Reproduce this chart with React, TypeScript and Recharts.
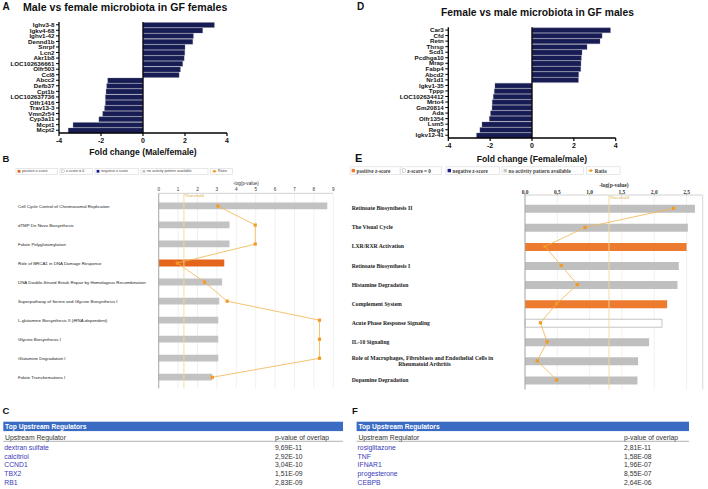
import { BarChart, Bar, XAxis, YAxis, ReferenceLine, Cell, ComposedChart, Line, CartesianGrid } from "recharts";

const SANS = "'Liberation Sans', Arial, sans-serif";
const SERIF = "'Liberation Serif', 'Times New Roman', serif";

// A - male vs female microbiota in GF females
const femaleGenes = ["Ighv3-8", "Igkv4-68", "Ighv1-42", "Dennd1b", "Snrpf", "Lcn2", "Akr1b8", "LOC102636661", "Olfr503", "Ccl8", "Abcc2", "Defb37", "Cpt1b", "LOC102637736", "Olfr1416", "Trav13-3", "Vmn2r54", "Cyp3a11", "Mcpt1", "Mcpt2"];
const femaleFold = [3.4, 2.84, 2.4, 2.37, 2.0, 1.99, 1.96, 1.89, 1.78, 1.72, -1.68, -1.73, -1.76, -1.79, -1.79, -1.83, -1.92, -2.1, -3.33, -3.56];

// D - female vs male microbiota in GF males
const maleGenes = ["Car3", "Cfd", "Retn", "Thrsp", "Scd1", "Pcdhga10", "Mrap", "Fabp4", "Abcd2", "Nr1d1", "Igkv1-35", "Tppp", "LOC102634412", "Mrto4", "Gm20814", "Ada", "Olfr1354", "Lsm5", "Reg4", "Igkv12-41"];
const maleFold = [3.75, 3.35, 3.25, 2.63, 2.39, 2.36, 2.34, 2.33, 2.23, 2.22, -1.77, -1.8, -1.85, -1.9, -1.91, -1.98, -2.04, -2.39, -2.49, -2.65];

const foldTicks = [-4, -2, 0, 2, 4];

// B - canonical pathways (females)
const bPathways = ["Cell Cycle Control of Chromosomal Replication", "dTMP De Novo Biosynthesis", "Folate Polyglutamylation", "Role of BRCA1 in DNA Damage Response", "DNA Double-Strand Break Repair by Homologous Recombination", "Superpathway of Serine and Glycine Biosynthesis I", "L-glutamine Biosynthesis II (tRNA-dependent)", "Glycine Biosynthesis I", "Glutamine Degradation I", "Folate Transformations I"];
const bLogP = [8.69, 3.65, 3.65, 3.38, 3.27, 3.12, 3.07, 3.07, 3.07, 2.76];
const bRatio = [0.339, 0.553, 0.553, 0.107, 0.263, 0.392, 0.921, 0.921, 0.921, 0.307];
const bZ = ["none", "none", "none", "pos", "none", "none", "none", "none", "none", "none"];
const bTicks = [0, 1, 2, 3, 4, 5, 6, 7, 8, 9];

// E - canonical pathways (males)
const ePathways = ["Retinoate Biosynthesis II", "The Visual Cycle", "LXR/RXR Activation", "Retinoate Biosynthesis I", "Histamine Degradation", "Complement System", "Acute Phase Response Signaling", "IL-10 Signaling", "Role of Macrophages, Fibroblasts and Endothelial Cells in\nRheumatoid Arthritis", "Dopamine Degradation"];
const eLogP = [2.63, 2.52, 2.5, 2.38, 2.36, 2.2, 2.12, 1.92, 1.75, 1.74];
const eRatio = [0.836, 0.338, 0.113, 0.204, 0.295, 0.178, 0.087, 0.124, 0.069, 0.178];
const eZ = ["none", "none", "pos", "none", "none", "pos", "zero", "none", "none", "none"];
const eTicks = [0, 0.5, 1, 1.5, 2, 2.5];

// C, F - upstream regulators
const cRegulators = ["dextran sulfate", "calcitriol", "CCND1", "TBX2", "RB1"];
const cPValues = ["9,69E-11", "2,92E-10", "3,04E-10", "1,51E-09", "2,83E-09"];
const fRegulators = ["rosiglitazone", "TNF", "IFNAR1", "progesterone", "CEBPB"];
const fPValues = ["2,81E-11", "1,58E-08", "1,96E-07", "8,55E-07", "2,64E-06"];

const legendLabels = ["positive z-score", "z-score = 0", "negative z-score", "no activity pattern available", "Ratio"];

function FoldChart({ genes, fold, xLabel, left, top, width, height, margin, axisHeight, labelOffset }: any) {
  const data = genes.map((gene: string, i: number) => ({ gene, fold: fold[i] }));
  return (
    <div style={{ position: "absolute", left, top }}>
      <BarChart width={width} height={height} data={data} layout="vertical" margin={margin} barCategoryGap={0.5}>
        <XAxis
          type="number"
          domain={[-4, 4]}
          ticks={foldTicks}
          height={axisHeight}
          tickSize={3}
          tickMargin={2}
          axisLine={{ stroke: "#000", strokeWidth: 1.3 }}
          tickLine={{ stroke: "#000", strokeWidth: 1.2 }}
          tick={{ fill: "#111", fontSize: 7, fontWeight: 700, fontFamily: SANS }}
          label={{ value: xLabel, position: "insideBottom", offset: labelOffset, fill: "#111", fontSize: 8.6, fontWeight: 700, fontFamily: SANS }}
        />
        <YAxis
          type="category"
          dataKey="gene"
          width={55}
          interval={0}
          tickSize={3}
          tickMargin={1.5}
          axisLine={{ stroke: "#000", strokeWidth: 1.3 }}
          tickLine={{ stroke: "#000", strokeWidth: 1 }}
          tick={{ fill: "#111", fontSize: 6.2, fontWeight: 700, fontFamily: SANS }}
        />
        <ReferenceLine x={0} stroke="#000" strokeWidth={1.3} />
        <Bar dataKey="fold" fill="#181c55" stroke="#7c7e92" strokeWidth={0.3} isAnimationActive={false} />
      </BarChart>
    </div>
  );
}

function PathwayChart(p: any) {
  const data = p.names.map((name: string, i: number) => ({ name, logp: p.logp[i], ratio: p.ratio[i], z: p.z[i] }));
  const fillFor = (z: string) => (z === "pos" ? p.orange : z === "zero" ? "#ffffff" : p.gray);

  const renderTick = (props: any) => {
    const lines = String(props.payload.value).split("\n");
    const common = { fontSize: p.labelSize, fontWeight: p.labelWeight, fontFamily: p.labelFont, fill: "#222" };
    if (lines.length === 1) {
      return (
        <text x={p.labelX} y={props.y} dy="0.35em" textAnchor="start" {...common}>
          {lines[0]}
        </text>
      );
    }
    return (
      <g>
        <text x={p.labelX} y={props.y - 2.8} dy="0.35em" textAnchor="start" {...common}>{lines[0]}</text>
        <text x={p.wrapCenter} y={props.y + 2.9} dy="0.35em" textAnchor="middle" {...common}>{lines[1]}</text>
      </g>
    );
  };

  const renderThreshold = (props: any) => {
    const vb = props.viewBox || {};
    return (
      <text x={vb.x + 0.6} y={vb.y + p.thresholdDy} fontSize={p.thresholdSize} fontFamily={p.labelFont} fill="#dcae4a">
        Threshold
      </text>
    );
  };

  const renderDot = (props: any) => (
    <rect key={`dot-${props.index}`} x={props.cx - 1.6} y={props.cy - 1.6} width={3.2} height={3.2} fill="#f19a26" />
  );

  return (
    <div style={{ position: "absolute", left: p.left, top: p.top }}>
      <ComposedChart width={p.width} height={p.height} data={data} layout="vertical" margin={p.margin}>
        <CartesianGrid horizontal={false} stroke="#ececec" strokeWidth={0.8} />
        <XAxis
          type="number"
          orientation="top"
          domain={p.domain}
          ticks={p.ticks}
          height={14}
          tickSize={0}
          tickMargin={p.tickMargin}
          tickLine={false}
          axisLine={{ stroke: "#d2d2d2" }}
          tickFormatter={p.tickFmt}
          tick={{ fill: "#333", fontSize: p.tickSize, fontWeight: p.labelWeight, fontFamily: p.labelFont }}
          label={{ value: "-log(p-value)", position: "insideTop", offset: 2, fill: "#333", fontSize: p.tickSize, fontWeight: p.labelWeight, fontFamily: p.labelFont }}
        />
        <XAxis xAxisId="ratio" type="number" orientation="top" domain={[0, 1]} hide />
        <YAxis
          type="category"
          dataKey="name"
          width={p.yWidth}
          interval={0}
          tickLine={false}
          axisLine={{ stroke: "#a8a8a8" }}
          padding={p.padding}
          tick={renderTick}
        />
        {p.rightEdge !== undefined && <ReferenceLine x={p.rightEdge} stroke="#dcdcdc" />}
        <ReferenceLine x={1.3} stroke="#efd9a0" strokeWidth={0.9} label={renderThreshold} />
        <Bar dataKey="logp" barSize={p.barSize} isAnimationActive={false}>
          {data.map((d: any, i: number) => (
            <Cell key={i} fill={fillFor(d.z)} stroke={d.z === "zero" ? "#b5b5b5" : "none"} strokeWidth={0.8} />
          ))}
        </Bar>
        <Line xAxisId="ratio" dataKey="ratio" type="linear" stroke="#f3b44c" strokeWidth={0.8} dot={renderDot} isAnimationActive={false} />
      </ComposedChart>
    </div>
  );
}

function Legend({ boxes, y, h, size, weight, font, iconSize, navy, orange, gray }: any) {
  return (
    <g>
      {legendLabels.map((label, i) => {
        const [x0, x1] = boxes[i];
        const cy = y + h / 2;
        const ix = x0 + 1.6;
        let icon;
        if (i === 4) {
          icon = (
            <g>
              <line x1={ix} x2={ix + iconSize + 1.5} y1={cy} y2={cy} stroke="#f3b44c" strokeWidth={0.8} />
              <rect x={ix + (iconSize + 1.5) / 2 - 1.2} y={cy - 1.2} width={2.4} height={2.4} fill="#f19a26" />
            </g>
          );
        } else {
          const fills = [orange, "#ffffff", navy, gray];
          icon = <rect x={ix} y={cy - iconSize / 2} width={iconSize} height={iconSize} fill={fills[i]} stroke={i === 1 ? "#999" : "none"} strokeWidth={0.4} />;
        }
        return (
          <g key={label}>
            <rect x={x0} y={y} width={x1 - x0} height={h} fill="#fff" stroke="#d8d8d8" strokeWidth={0.6} />
            {icon}
            <text x={ix + iconSize + (i === 4 ? 3 : 1.6)} y={cy} dominantBaseline="central" fontSize={size} fontWeight={weight} fontFamily={font} fill="#444">
              {label}
            </text>
          </g>
        );
      })}
    </g>
  );
}

function UpstreamTable({ x, width, valueX, names, values }: any) {
  return (
    <g fontFamily={SANS}>
      <rect x={x} y={421.7} width={width} height={9.4} fill="#3a6cc4" />
      <text x={x + 1.8} y={426.4} dominantBaseline="central" fontSize={6.7} fontWeight={700} fill="#fff">Top Upstream Regulators</text>
      <text x={x + 1.8} y={437.6} dominantBaseline="central" fontSize={6.8} fill="#333">Upstream Regulator</text>
      <text x={valueX} y={437.6} dominantBaseline="central" fontSize={6.8} fill="#333">p-value of overlap</text>
      <line x1={x} x2={x + width} y1={441.3} y2={441.3} stroke="#a0a0a0" strokeWidth={0.8} />
      {names.map((n: string, i: number) => (
        <g key={n}>
          <text x={x + 1} y={447.1 + i * 8.9} dominantBaseline="central" fontSize={6.8} fill="#3a3ab8">{n}</text>
          <text x={valueX} y={447.1 + i * 8.9} dominantBaseline="central" fontSize={6.8} fill="#333">{values[i]}</text>
        </g>
      ))}
    </g>
  );
}

export default function App() {
  const commaFmt = (v: number) => v.toFixed(1).replace(".", ",");
  return (
    <div style={{ position: "absolute", left: 0, top: 0, width: 708, height: 489, background: "#fff", overflow: "hidden" }}>
      <FoldChart
        genes={femaleGenes}
        fold={femaleFold}
        xLabel="Fold change (Male/female)"
        left={0}
        top={0}
        width={240}
        height={160}
        axisHeight={27}
        labelOffset={4.6}
        margin={{ top: 22, right: 13, bottom: 0, left: 4 }}
      />
      <FoldChart
        genes={maleGenes}
        fold={maleFold}
        xLabel="Fold change (Female/male)"
        left={350}
        top={0}
        width={290}
        height={166}
        axisHeight={28}
        labelOffset={4}
        margin={{ top: 27.3, right: 24.3, bottom: 0, left: 43.3 }}
      />
      <PathwayChart
        names={bPathways}
        logp={bLogP}
        ratio={bRatio}
        z={bZ}
        ticks={bTicks}
        domain={[0, 9]}
        left={0}
        top={160}
        width={345}
        height={240}
        margin={{ top: 19.3, right: 11.7, bottom: 11.7, left: 0 }}
        yWidth={158.7}
        padding={{ top: 3.2, bottom: 1.5 }}
        labelX={18}
        wrapCenter={90}
        labelSize={4.4}
        labelWeight={400}
        labelFont={SANS}
        tickSize={4.6}
        tickMargin={2}
        thresholdSize={4.4}
        thresholdDy={3.6}
        barSize={6.8}
        orange="#e4661c"
        gray="#c2c2c2"
      />
      <PathwayChart
        names={ePathways}
        logp={eLogP}
        ratio={eRatio}
        z={eZ}
        ticks={eTicks}
        domain={[0, 2.75]}
        rightEdge={2.75}
        tickFmt={commaFmt}
        left={340}
        top={160}
        width={368}
        height={240}
        margin={{ top: 21, right: 5.3, bottom: 10.5, left: 0 }}
        yWidth={185}
        padding={{ top: 3.8, bottom: 0 }}
        labelX={11.7}
        wrapCenter={84.5}
        labelSize={5.7}
        labelWeight={700}
        labelFont={SERIF}
        tickSize={5.4}
        tickMargin={1.5}
        thresholdSize={4.8}
        thresholdDy={3.8}
        barSize={8}
        orange="#ec7a2f"
        gray="#bfbfbf"
      />
      <svg width={708} height={489} style={{ position: "absolute", left: 0, top: 0, pointerEvents: "none" }}>
        <g fontFamily={SANS} fontWeight={700} fill="#111">
          <text x={2.5} y={6.5} dominantBaseline="central" fontSize={10}>A</text>
          <text x={23} y={6.8} dominantBaseline="central" fontSize={10.6}>Male vs female microbiota in GF females</text>
          <text x={357} y={6.5} dominantBaseline="central" fontSize={10}>D</text>
          <text x={537.5} y={12.7} dominantBaseline="central" textAnchor="middle" fontSize={10.3}>Female vs male microbiota in GF males</text>
          <text x={2.5} y={158} dominantBaseline="central" fontSize={9.5}>B</text>
          <text x={355} y={158.3} dominantBaseline="central" fontSize={11}>E</text>
          <text x={2.5} y={410} dominantBaseline="central" fontSize={9.5}>C</text>
          <text x={352} y={410} dominantBaseline="central" fontSize={9.5}>F</text>
        </g>
        <Legend
          boxes={[[16, 57.3], [60, 92.3], [95, 138.3], [141, 208], [210.7, 232.3]]}
          y={168.3}
          h={6}
          size={3.7}
          weight={400}
          font={SANS}
          iconSize={2.8}
          navy="#1a1f8c"
          orange="#e4661c"
          gray="#c2c2c2"
        />
        <Legend
          boxes={[[350, 400], [400.7, 441.7], [446, 499.3], [502, 583.3], [586.7, 620]]}
          y={166.8}
          h={7.6}
          size={5.2}
          weight={700}
          font={SERIF}
          iconSize={3.4}
          navy="#1a1f8c"
          orange="#ec7a2f"
          gray="#c8c8c8"
        />
        <UpstreamTable x={3.3} width={339.7} valueX={275} names={cRegulators} values={cPValues} />
        <UpstreamTable x={356.6} width={332.4} valueX={624} names={fRegulators} values={fPValues} />
      </svg>
    </div>
  );
}
